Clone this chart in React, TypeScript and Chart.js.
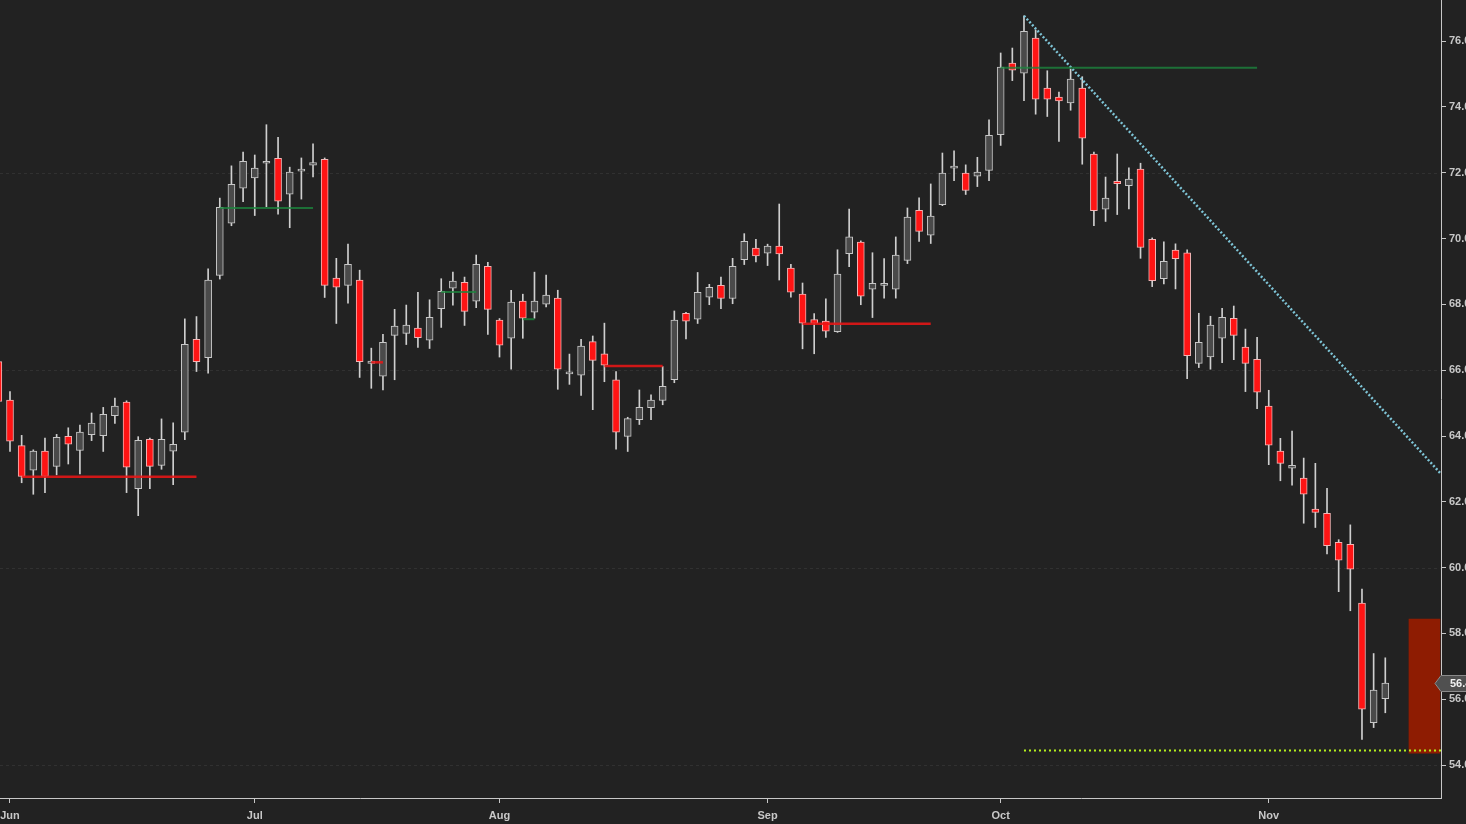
import Chart from "chart.js/auto";
import { useEffect, useRef } from "react";

// daily candles, slot 0 is the half-hidden one at the left edge
const opens = [
  66.26, 65.09, 63.71, 62.96, 63.54, 63.08, 63.99, 63.56, 64.04, 64.01,
  64.62, 65.03, 62.4, 63.9, 63.11, 63.54, 64.12, 66.94, 66.38, 68.88,
  70.47, 71.53, 71.84, 72.29, 72.44, 71.35, 72.05, 72.23, 72.41, 68.8,
  68.58, 68.74, 66.21, 65.82, 67.06, 67.12, 67.28, 66.91, 67.87, 68.49,
  68.67, 68.1, 69.16, 67.52, 66.97, 68.1, 67.76, 68.01, 68.19, 65.89,
  65.85, 66.87, 66.5, 65.71, 63.99, 64.5, 64.86, 65.08, 65.71, 67.73,
  67.55, 68.22, 68.58, 68.18, 69.36, 69.71, 69.56, 69.77, 69.1, 68.31,
  67.54, 67.49, 67.17, 69.54, 69.89, 68.46, 68.58, 68.46, 69.34, 70.86,
  70.1, 71.03, 72.14, 71.99, 71.9, 72.07, 73.16, 75.33, 75.03, 76.09,
  74.57, 74.3, 74.12, 74.57, 72.57, 70.89, 71.74, 71.61, 72.11, 69.98,
  68.78, 69.65, 69.57, 66.21, 66.4, 66.97, 67.58, 66.7, 66.33, 64.91,
  63.54, 63.02, 62.72, 61.78, 61.65, 60.77, 60.71, 58.92, 55.29, 56.02,
];
const highs = [
  66.45, 65.35, 64.02, 63.58, 63.94, 64.05, 64.25, 64.33, 64.7, 64.87,
  65.15, 65.07, 63.98, 63.94, 64.52, 64.4, 67.56, 67.63, 69.08, 71.23,
  72.21, 72.63, 72.54, 73.46, 73.08, 72.17, 72.45, 72.88, 72.45, 69.4,
  69.83, 69.04, 66.67, 67.09, 67.85, 67.98, 68.37, 68.14, 68.78, 68.98,
  68.83, 69.5, 69.28, 67.57, 68.43, 68.31, 68.98, 68.89, 68.43, 66.49,
  66.94, 67.04, 67.43, 65.96, 64.57, 65.4, 65.25, 66.11, 67.8, 67.76,
  68.97, 68.61, 68.83, 69.4, 70.15, 69.98, 69.83, 71.05, 69.22, 68.65,
  67.72, 68.17, 69.66, 70.9, 69.93, 69.57, 69.39, 70.05, 70.93, 71.24,
  71.66, 72.6, 72.67, 72.24, 72.47, 73.61, 75.64, 75.79, 76.77, 76.34,
  75.1, 74.45, 75.15, 74.92, 72.63, 71.87, 72.57, 72.15, 72.29, 70.02,
  69.9, 69.84, 69.66, 67.73, 67.64, 67.88, 67.95, 67.25, 67.0, 65.39,
  63.93, 64.15, 63.33, 63.17, 62.41, 60.85, 61.3, 59.35, 57.39, 57.26,
];
const lows = [
  64.9, 63.53, 62.58, 62.23, 62.28, 62.82, 63.15, 62.85, 63.86, 63.53,
  64.38, 62.28, 61.58, 62.4, 62.99, 62.52, 63.89, 65.96, 65.91, 68.77,
  70.39, 71.12, 70.7, 70.97, 70.74, 70.33, 71.2, 71.87, 68.21, 67.42,
  68.04, 65.78, 65.45, 65.4, 65.71, 66.78, 66.69, 66.66, 67.3, 67.98,
  67.36, 67.9, 67.09, 66.4, 66.03, 66.97, 67.58, 67.92, 65.42, 65.57,
  65.23, 64.8, 65.65, 63.6, 63.53, 64.35, 64.5, 64.95, 65.62, 66.95,
  67.42, 67.99, 67.87, 68.02, 69.21, 69.29, 69.18, 68.74, 68.22, 66.65,
  66.5, 67.0, 67.15, 69.15, 67.99, 67.6, 68.19, 68.19, 69.24, 69.91,
  69.85, 71.0, 71.76, 71.34, 71.58, 71.76, 72.83, 74.8, 74.19, 73.78,
  73.71, 72.95, 73.9, 72.26, 70.39, 70.52, 70.73, 70.9, 69.4, 68.54,
  68.62, 68.47, 65.74, 66.08, 66.03, 66.23, 66.32, 65.35, 64.83, 63.13,
  62.64, 62.51, 61.35, 61.22, 60.42, 59.27, 58.69, 54.78, 55.14, 55.59,
];
const closes = [
  65.05, 63.84, 62.77, 63.54, 62.77, 63.96, 63.75, 64.12, 64.39, 64.66,
  64.91, 63.05, 63.87, 63.08, 63.9, 63.75, 66.79, 66.26, 68.74, 70.95,
  71.65, 72.35, 72.14, 72.35, 71.14, 72.02, 72.09, 72.31, 68.58, 68.52,
  69.22, 66.26, 66.28, 66.85, 67.34, 67.37, 66.99, 67.61, 68.4, 68.71,
  67.79, 69.22, 67.85, 66.76, 68.07, 67.58, 68.1, 68.28, 66.03, 65.91,
  66.73, 66.3, 66.15, 64.12, 64.53, 64.87, 65.09, 65.51, 67.52, 67.49,
  68.37, 68.52, 68.18, 69.16, 69.92, 69.47, 69.77, 69.53, 68.37, 67.43,
  67.42, 67.19, 68.92, 70.05, 68.25, 68.64, 68.6, 69.5, 70.65, 70.22,
  70.68, 71.99, 72.16, 71.46, 72.02, 73.14, 75.21, 75.12, 76.3, 74.24,
  74.24, 74.18, 74.85, 73.05, 70.85, 71.23, 71.67, 71.81, 69.73, 68.72,
  69.31, 69.39, 66.44, 66.85, 67.37, 67.61, 67.06, 66.21, 65.33, 63.72,
  63.17, 63.11, 62.23, 61.68, 60.67, 60.23, 59.95, 55.7, 56.28, 56.49,
];

const monthNames = ["Jun", "Jul", "Aug", "Sep", "Oct", "Nov"];
const monthStarts = [1, 22, 43, 66, 86, 109];
const gridPrices = [54, 60, 66, 72];

// horizontal levels: first slot, last slot, price, colour
const levelStarts = [2, 19, 32, 38, 45, 52, 69, 86];
const levelEnds = [17, 27, 33, 41, 46, 57, 80, 108];
const levelPrices = [62.76, 70.93, 66.24, 68.38, 67.55, 66.13, 67.41, 75.19];
const levelIsSupport = [true, false, true, false, false, true, true, false];

const trendFrom = [88, 76.77];
const trendTo = [123.7, 62.88];
const floorPrice = 54.44;
const zoneSlot = 122.36;
const zoneLow = 54.36;
const zoneHigh = 58.44;

const BG = "#222222";
const AXIS = "#c8c8c8";
const UP_FILL = "#4a4a4a";
const UP_EDGE = "#c8c8c8";
const DOWN_FILL = "#ff1414";
const DOWN_EDGE = "#f3b4b4";
const FONT = { family: "'Liberation Sans', Arial, sans-serif", size: 11, weight: "bold" as const };

// drop the label padding Chart.js adds so the plot fills the canvas edge to edge
const noPadding = (scale: any) => {
  scale.paddingLeft = 0;
  scale.paddingRight = 0;
  scale.paddingTop = 0;
  scale.paddingBottom = 0;
};

const decor = {
  id: "decor",
  beforeDatasetsDraw(chart: any) {
    const { ctx, chartArea, scales } = chart;
    ctx.save();
    ctx.strokeStyle = "rgba(255,255,255,0.07)";
    ctx.lineWidth = 1;
    ctx.setLineDash([3, 3]);
    for (const p of gridPrices) {
      const y = Math.round(scales.y.getPixelForValue(p)) + 0.5;
      ctx.beginPath();
      ctx.moveTo(chartArea.left, y);
      ctx.lineTo(chartArea.right, y);
      ctx.stroke();
    }
    ctx.restore();
  },
  afterDraw(chart: any) {
    const { ctx, chartArea, scales } = chart;
    const last = closes[closes.length - 1];
    const y = Math.round(scales.y.getPixelForValue(last)) + 0.5;
    const x = chartArea.right;
    ctx.save();
    ctx.beginPath();
    ctx.moveTo(x - 6, y);
    ctx.lineTo(x, y - 8);
    ctx.lineTo(x + 60, y - 8);
    ctx.lineTo(x + 60, y + 8);
    ctx.lineTo(x, y + 8);
    ctx.closePath();
    ctx.fillStyle = "#505050";
    ctx.fill();
    ctx.strokeStyle = "#8a8a8a";
    ctx.lineWidth = 1;
    ctx.stroke();
    ctx.fillStyle = "#f2f2f2";
    ctx.font = "bold 11px 'Liberation Sans', Arial, sans-serif";
    ctx.textBaseline = "middle";
    ctx.fillText(last.toFixed(2), x + 9, y + 0.5);
    ctx.restore();
  },
};

export default function App() {
  const chartRef = useRef<HTMLCanvasElement>(null);

  useEffect(() => {
    const slots = opens.map((_, k) => k);
    const isDown = slots.map((k) => closes[k] < opens[k]);

    const levels = levelStarts.map((s, i) => ({
      type: "line" as const,
      data: [
        { x: s, y: levelPrices[i] },
        { x: levelEnds[i], y: levelPrices[i] },
      ],
      borderColor: levelIsSupport[i] ? "rgba(232,22,22,0.88)" : "rgba(28,135,62,0.78)",
      borderWidth: levelIsSupport[i] ? 2.5 : 2,
      borderCapStyle: "butt" as const,
      pointRadius: 0,
      order: 0,
    }));

    const chart = new Chart(chartRef.current!, {
      type: "bar",
      data: {
        datasets: [
          ...levels,
          {
            type: "line",
            data: [
              { x: trendFrom[0], y: trendFrom[1] },
              { x: trendTo[0], y: trendTo[1] },
            ],
            borderColor: "#7ec4d6",
            borderWidth: 2.5,
            borderDash: [2, 2],
            pointRadius: 0,
            order: 0,
          },
          {
            type: "line",
            data: [
              { x: trendFrom[0], y: floorPrice },
              { x: 123.78, y: floorPrice },
            ],
            borderColor: "#b6f21e",
            borderWidth: 2,
            borderDash: [2, 3],
            pointRadius: 0,
            order: 0,
          },
          {
            type: "bar",
            data: slots.map((k) => ({ x: k, y: [opens[k], closes[k]] })),
            backgroundColor: slots.map((k) => (isDown[k] ? DOWN_FILL : UP_FILL)),
            borderColor: slots.map((k) => (isDown[k] ? DOWN_EDGE : UP_EDGE)),
            borderWidth: 1,
            borderSkipped: false,
            barThickness: 7,
            minBarLength: 2,
            grouped: false,
            order: 1,
          },
          {
            type: "bar",
            data: slots.map((k) => ({ x: k, y: [lows[k], highs[k]] })),
            backgroundColor: "#cfcfcf",
            borderWidth: 0,
            barThickness: 1,
            grouped: false,
            order: 2,
          },
          {
            type: "bar",
            data: [{ x: zoneSlot, y: [zoneLow, zoneHigh] }],
            backgroundColor: "#8e1c02",
            borderWidth: 0,
            barThickness: 31,
            grouped: false,
            order: 3,
          },
        ] as any,
      },
      options: {
        responsive: false,
        animation: false,
        events: [],
        layout: { padding: 0, autoPadding: false },
        plugins: {
          legend: { display: false },
          tooltip: { enabled: false },
        },
        scales: {
          x: {
            type: "linear",
            min: 0.142,
            max: 123.78,
            offset: false,
            afterBuildTicks: (scale: any) => {
              scale.ticks = monthStarts.map((value) => ({ value }));
            },
            afterFit: (scale: any) => {
              scale.height = 26;
              noPadding(scale);
            },
            grid: {
              offset: false,
              drawOnChartArea: false,
              tickLength: 5,
              tickColor: AXIS,
            },
            border: { color: AXIS },
            ticks: {
              color: AXIS,
              font: FONT,
              padding: 6,
              maxRotation: 0,
              autoSkip: false,
              callback: (v: any) => monthNames[monthStarts.indexOf(Number(v))] ?? "",
            },
          },
          y: {
            type: "linear",
            position: "right",
            min: 53.0,
            max: 77.25,
            afterFit: (scale: any) => {
              scale.width = 25;
              noPadding(scale);
            },
            grid: {
              drawOnChartArea: false,
              tickLength: 5,
              tickColor: AXIS,
            },
            border: { color: AXIS },
            ticks: {
              stepSize: 2,
              includeBounds: false,
              color: AXIS,
              font: FONT,
              padding: 3,
              callback: (v: any) => Number(v).toFixed(1),
            },
          },
        },
      },
      plugins: [decor],
    });

    return () => chart.destroy();
  }, []);

  return (
    <div style={{ position: "fixed", left: 0, top: 0, width: 1466, height: 824, background: BG, overflow: "hidden" }}>
      <canvas ref={chartRef} width={1466} height={824} style={{ display: "block" }}></canvas>
    </div>
  );
}
